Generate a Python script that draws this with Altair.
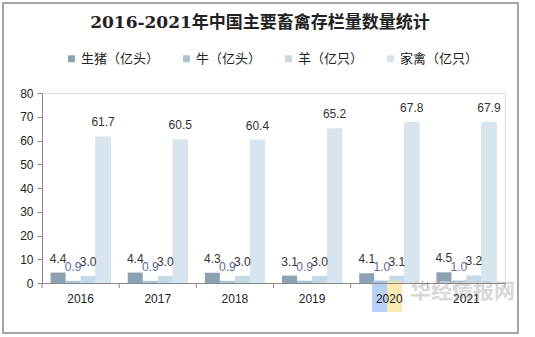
import altair as alt
import pandas as pd

title_text = "2016-2021年中国主要畜禽存栏量数量统计"
years = ["2016", "2017", "2018", "2019", "2020", "2021"]
series = ["生猪（亿头）", "牛（亿头）", "羊（亿只）", "家禽（亿只）"]
pig = [4.4, 4.4, 4.3, 3.1, 4.1, 4.5]
cattle = [0.9, 0.9, 0.9, 0.9, 1.0, 1.0]
sheep = [3.0, 3.0, 3.0, 3.0, 3.1, 3.2]
poultry = [61.7, 60.5, 60.4, 65.2, 67.8, 67.9]
colors = ["#8da2b0", "#a9c3d5", "#c6d9e6", "#d8e5ef"]

rows = []
for s, vals in zip(series, [pig, cattle, sheep, poultry]):
    for y, v in zip(years, vals):
        rows.append({"year": y, "series": s, "value": v})
df = pd.DataFrame(rows)
df_years = pd.DataFrame({"year": years})

W, H = 463, 190
FONT = "Liberation Sans"

x_enc = alt.X(
    "year:N",
    sort=years,
    scale=alt.Scale(paddingInner=0, paddingOuter=0),
    axis=alt.Axis(
        title=None, labelAngle=0, labelFontSize=12, labelColor="#222", labelFont=FONT,
        domainColor="#888", tickOpacity=0, tickSize=5, labelPadding=5, zindex=1,
    ),
)
xo_enc = alt.XOffset(
    "series:N", sort=series,
    scale=alt.Scale(domain=series, paddingInner=0, paddingOuter=0.57),
)
y_enc = alt.Y(
    "value:Q",
    scale=alt.Scale(domain=[0, 80]),
    axis=alt.Axis(
        title=None, values=list(range(0, 81, 10)), grid=False, labelFontSize=12,
        labelColor="#222", labelFont=FONT, domainColor="#888", tickColor="#888",
        tickSize=5, labelPadding=4,
    ),
)

base = alt.Chart(df)

shadow = base.transform_filter(alt.datum.series == series[3]).mark_bar(
    color="#9a9a9a", opacity=0.55, xOffset=3, yOffset=1
).encode(x=x_enc, xOffset=xo_enc, y=y_enc)

bars = base.mark_bar().encode(
    x=x_enc,
    xOffset=xo_enc,
    y=y_enc,
    color=alt.Color(
        "series:N", sort=series,
        scale=alt.Scale(domain=series, range=colors),
        legend=alt.Legend(
            title=None, orient="none", direction="horizontal", legendX=23, legendY=-41,
            symbolType="square", symbolSize=49, symbolStrokeWidth=0, labelFontSize=13,
            labelFont="Noto Sans CJK SC", labelColor="#222", columnPadding=20,
            labelOffset=3, padding=0,
        ),
    ),
)

labels_dark = base.transform_filter(alt.datum.series != series[1]).mark_text(
    baseline="bottom", dy=-7, fontSize=12, font=FONT, color="#333"
).encode(x=x_enc, xOffset=xo_enc, y=y_enc, text=alt.Text("value:Q", format=".1f"))

labels_cattle = base.transform_filter(alt.datum.series == series[1]).mark_text(
    baseline="bottom", dy=-7, fontSize=12, font=FONT, color="#5b6899"
).encode(x=x_enc, xOffset=xo_enc, y=y_enc, text=alt.Text("value:Q", format=".1f"))

ticks = alt.Chart(df_years).mark_rule(color="#888").encode(
    x=alt.X("year:N", sort=years, bandPosition=0), y=alt.value(H), y2=alt.value(H + 5)
)
last_tick = alt.Chart(pd.DataFrame({"a": [0]})).mark_rule(color="#888").encode(
    x=alt.value(W), y=alt.value(H), y2=alt.value(H + 5)
)

deco = pd.DataFrame({"a": [0]})
border = alt.Chart(deco).mark_rect(fill=None, stroke="#888", strokeWidth=1.5).encode(
    x=alt.value(-39), x2=alt.value(476), y=alt.value(-90), y2=alt.value(240)
)
title = alt.Chart(deco).mark_text(
    text=title_text, font="DejaVu Serif, Noto Sans CJK SC", fontSize=17,
    fontWeight="bold", color="#222", align="center", baseline="middle",
).encode(x=alt.value(218), y=alt.value(-70))
logo_b = alt.Chart(deco).mark_rect(color="#9ec2f2", opacity=0.75).encode(
    x=alt.value(330), x2=alt.value(345), y=alt.value(188), y2=alt.value(219)
)
logo_y = alt.Chart(deco).mark_rect(color="#f7e49a", opacity=0.75).encode(
    x=alt.value(345), x2=alt.value(360), y=alt.value(188), y2=alt.value(219)
)
watermark = alt.Chart(deco).mark_text(
    text="华经情报网", font="Noto Sans CJK SC", fontSize=21, fontWeight="bold",
    color="#cfcfcf", opacity=0.8, align="left", baseline="middle"
).encode(x=alt.value(368), y=alt.value(199))

chart = alt.layer(
    border, title, shadow, bars, labels_dark, labels_cattle, ticks, last_tick,
    logo_b, logo_y, watermark,
).properties(
    width=W,
    height=H,
    autosize=alt.AutoSizeParams(type="none"),
    padding={"left": 42, "top": 93, "right": 30, "bottom": 54},
).configure_view(stroke=None).configure(background="white")

chart.save("out.html", embed_options={"renderer": "svg", "actions": False})
